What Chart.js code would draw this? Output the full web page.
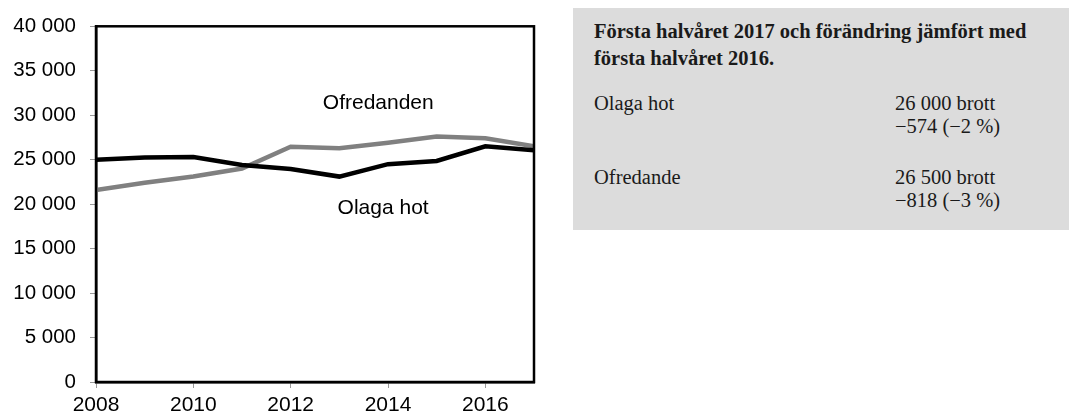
<!DOCTYPE html>
<html>
<head>
<meta charset="utf-8">
<script src="https://cdn.jsdelivr.net/npm/chart.js@4"></script>
<style>
  body { margin: 0; background: #fff; width: 1069px; height: 414px; position: relative; overflow: hidden; }
  #chartBox { position: absolute; left: 0; top: 0; width: 560px; height: 414px; }
  #infoBox { position: absolute; left: 573px; top: 8px; width: 496px; height: 222px; background: #dcdcdc;
             font-family: "Liberation Serif", "DejaVu Serif", serif; color: #1a1a1a; }
  #infoBox .title { position: absolute; left: 21px; top: 10px; font-weight: bold; font-size: 20.5px; line-height: 27px; white-space: nowrap; }
  #infoBox .row { position: absolute; left: 21px; width: 470px; font-size: 20.5px; line-height: 23px; }
  #infoBox .row .val { position: absolute; left: 301px; top: 0; white-space: nowrap; }
</style>
</head>
<body>
<div id="chartBox"><canvas id="lineChart"></canvas></div>
<div id="infoBox">
  <div class="title">Första halvåret 2017 och förändring jämfört med<br>första halvåret 2016.</div>
  <div class="row" style="top:84px">Olaga hot<div class="val">26 000 brott<br>−574 (−2 %)</div></div>
  <div class="row" style="top:158px">Ofredande<div class="val">26 500 brott<br>−818 (−3 %)</div></div>
</div>
<script>
const years = [2008, 2009, 2010, 2011, 2012, 2013, 2014, 2015, 2016, 2017];
const olagaHot = [25000, 25250, 25300, 24400, 23950, 23100, 24500, 24850, 26500, 26050];
const ofredande = [21600, 22400, 23100, 24000, 26450, 26300, 26900, 27600, 27400, 26500];
const xTickYears = [2008, 2010, 2012, 2014, 2016];
const labels = [
    { text: 'Ofredanden', x: 2013.8, y: 31300 },
    { text: 'Olaga hot', x: 2013.9, y: 19500 }
];

const sansFont = '"Liberation Sans", Arial, sans-serif';

function formatThousands(v) {
    return String(v).replace(/\B(?=(\d{3})+(?!\d))/g, ' ');
}

const frameAndLabels = {
    id: 'frameAndLabels',
    afterDraw(chart) {
        const ctx = chart.ctx;
        const a = chart.chartArea;
        ctx.save();
        ctx.strokeStyle = '#000';
        ctx.lineWidth = 2.5;
        ctx.strokeRect(a.left, a.top, a.right - a.left, a.bottom - a.top);
        ctx.fillStyle = '#000';
        ctx.font = '21px ' + sansFont;
        ctx.textAlign = 'center';
        ctx.textBaseline = 'middle';
        labels.forEach(l => {
            ctx.fillText(l.text, chart.scales.x.getPixelForValue(l.x), chart.scales.y.getPixelForValue(l.y));
        });
        ctx.restore();
    }
};

let lineCtx = document.getElementById('lineChart').getContext('2d');
let lineChart = new Chart(lineCtx, {
    type: 'line',
    data: {
        datasets: [
            {
                label: 'Olaga hot',
                data: years.map((y, i) => ({ x: y, y: olagaHot[i] })),
                borderColor: '#000',
                borderWidth: 4.5,
                pointRadius: 0,
                tension: 0
            },
            {
                label: 'Ofredande',
                data: years.map((y, i) => ({ x: y, y: ofredande[i] })),
                borderColor: '#808080',
                borderWidth: 4.5,
                pointRadius: 0,
                tension: 0
            }
        ]
    },
    options: {
        responsive: true,
        maintainAspectRatio: false,
        animation: false,
        layout: { padding: { left: 0, top: 25, right: 26, bottom: 0 } },
        plugins: { legend: { display: false }, tooltip: { enabled: false } },
        scales: {
            x: {
                type: 'linear',
                min: 2008,
                max: 2017,
                afterBuildTicks: scale => { scale.ticks = xTickYears.map(v => ({ value: v })); },
                afterFit: scale => { scale.height = 32; },
                ticks: {
                    color: '#000',
                    padding: 5,
                    maxRotation: 0,
                    font: { family: sansFont, size: 21 },
                    callback: v => String(v)
                },
                grid: { drawOnChartArea: false, tickLength: 6, color: '#999', tickWidth: 1 },
                border: { color: '#000', width: 2.5 }
            },
            y: {
                min: 0,
                max: 40000,
                afterFit: scale => { scale.width = 96; },
                ticks: {
                    stepSize: 5000,
                    color: '#000',
                    padding: 14,
                    font: { family: sansFont, size: 20.5 },
                    callback: v => formatThousands(v)
                },
                grid: { drawOnChartArea: false, tickLength: 6, color: '#999', tickWidth: 1 },
                border: { color: '#000', width: 2.5 }
            }
        }
    },
    plugins: [frameAndLabels]
});
</script>
</body>
</html>
